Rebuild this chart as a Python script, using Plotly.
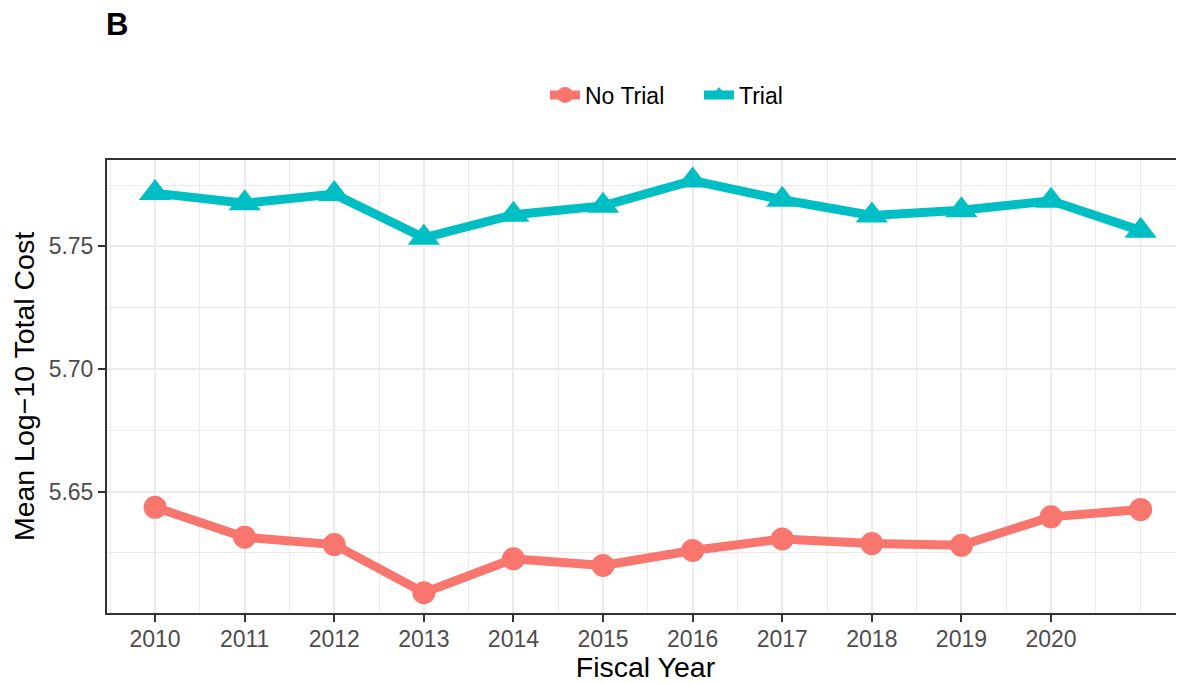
import plotly.graph_objects as go

# data
years = [2010, 2011, 2012, 2013, 2014, 2015, 2016, 2017, 2018, 2019, 2020, 2021]
no_trial = [5.6436, 5.6314, 5.6284, 5.6088, 5.6226, 5.6199,
            5.6260, 5.6307, 5.6288, 5.6281, 5.6397, 5.6427]
trial = [5.7717, 5.7676, 5.7713, 5.7535, 5.7629, 5.7665,
         5.7768, 5.7690, 5.7626, 5.7647, 5.7686, 5.7564]

x_ticks = [2010, 2011, 2012, 2013, 2014, 2015, 2016, 2017, 2018, 2019, 2020]
x_minor = [2009.5, 2010.5, 2011.5, 2012.5, 2013.5, 2014.5, 2015.5,
           2016.5, 2017.5, 2018.5, 2019.5, 2020.5, 2021, 2021.5]
y_ticks = [5.65, 5.70, 5.75]
y_minor = [5.625, 5.675, 5.725, 5.775]

FONT = "Liberation Sans, Arial, sans-serif"

# the page body has an 8px margin, so the figure is sized to fit inside it
W, H = 1176, 675
L, T, B = 99, 152, 70
plot_w = W - L
plot_h = H - T - B

fig = go.Figure()

fig.add_trace(go.Scatter(
    x=years, y=no_trial, name="No Trial",
    mode="lines+markers",
    line=dict(color="#F8766D", width=9),
    marker=dict(symbol="circle", size=23, color="#F8766D")
))

fig.add_trace(go.Scatter(
    x=years, y=trial, name="Trial",
    mode="lines+markers",
    line=dict(color="#00BFC4", width=9),
    marker=dict(symbol="triangle-up", size=28, color="#00BFC4")
))

fig.update_layout(
    width=W,
    height=H,
    margin=dict(l=L, r=0, t=T, b=B),
    paper_bgcolor="white",
    plot_bgcolor="white",
    font=dict(family=FONT, color="black"),
    showlegend=True,
    legend=dict(
        orientation="h",
        x=(537 - L) / plot_w, xanchor="left",
        y=1.0 + (T - 87) / plot_h, yanchor="middle",
        entrywidth=109, entrywidthmode="pixels",
        font=dict(size=23, color="black"),
        bgcolor="rgba(0,0,0,0)"
    ),
    xaxis=dict(
        range=[2009.464, 2021.484],
        tickmode="array",
        tickvals=x_ticks,
        ticktext=[str(v) for v in x_ticks],
        ticks="outside", ticklen=7, tickwidth=2, tickcolor="#333333",
        tickfont=dict(size=23, color="#4D4D4D"),
        ticklabelstandoff=-3,
        showgrid=True, gridcolor="#EBEBEB", gridwidth=2,
        minor=dict(tickvals=x_minor, showgrid=True, gridcolor="#EBEBEB",
                   gridwidth=1, ticks=""),
        showline=True, linecolor="#333333", linewidth=2, mirror=True,
        zeroline=False,
        title=dict(text="Fiscal Year", font=dict(size=28.5, color="black"),
                   standoff=2)
    ),
    yaxis=dict(
        range=[5.6005, 5.7852],
        tickmode="array",
        tickvals=y_ticks,
        ticktext=["5.65", "5.70", "5.75"],
        ticks="outside", ticklen=7, tickwidth=2, tickcolor="#333333",
        tickfont=dict(size=23, color="#4D4D4D"),
        showgrid=True, gridcolor="#EBEBEB", gridwidth=2,
        minor=dict(tickvals=y_minor, showgrid=True, gridcolor="#EBEBEB",
                   gridwidth=1, ticks=""),
        showline=True, linecolor="#333333", linewidth=2, mirror=False,
        zeroline=False,
        title=dict(text="Mean Log\u221210 Total Cost",
                   font=dict(size=28.5, color="black"), standoff=8)
    ),
    annotations=[
        dict(text="<b>B</b>", xref="paper", yref="paper",
             x=-3 / plot_w, y=1.0 + (T - 16) / plot_h,
             xanchor="left", yanchor="middle",
             showarrow=False, font=dict(size=31, color="black", family=FONT))
    ]
)

fig.write_html("out.html")
